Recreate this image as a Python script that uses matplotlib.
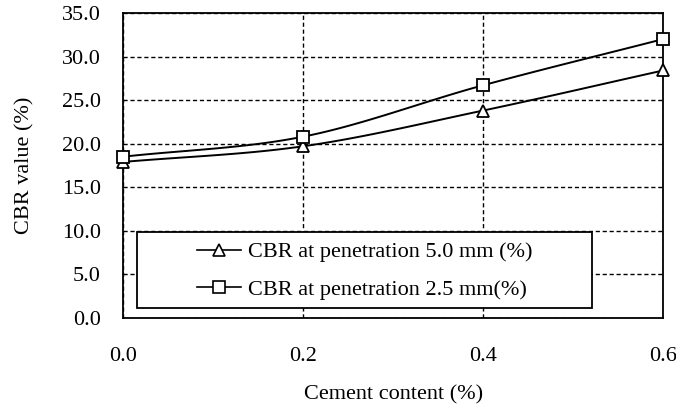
import numpy as np
import matplotlib.pyplot as plt
from matplotlib.patches import Rectangle

plt.rcParams['font.family'] = ['Liberation Serif', 'DejaVu Serif']

cement = [0.0, 0.2, 0.4, 0.6]
cbr_50 = [17.9, 19.7, 23.8, 28.4]
cbr_25 = [18.5, 20.8, 26.7, 32.0]
yticks = np.arange(0, 35.1, 5)
xticks = [0.0, 0.2, 0.4, 0.6]


def smooth(x, y, n=40):
    # Catmull-Rom curve through the points, like a spreadsheet "smoothed line"
    x = np.asarray(x, float)
    y = np.asarray(y, float)
    px = np.concatenate([[2 * x[0] - x[1]], x, [2 * x[-1] - x[-2]]])
    py = np.concatenate([[2 * y[0] - y[1]], y, [2 * y[-1] - y[-2]]])
    xs, ys = [], []
    t = np.linspace(0, 1, n)
    for i in range(1, len(px) - 2):
        for p, out in ((px, xs), (py, ys)):
            p0, p1, p2, p3 = p[i - 1], p[i], p[i + 1], p[i + 2]
            out.extend(0.5 * (2 * p1 + (-p0 + p2) * t
                              + (2 * p0 - 5 * p1 + 4 * p2 - p3) * t ** 2
                              + (-p0 + 3 * p1 - 3 * p2 + p3) * t ** 3))
    return xs, ys


fig = plt.figure(figsize=(6.76, 4.05), dpi=100)
ax = fig.add_axes([0.182, 0.215, 0.799, 0.753])

for vals, mk, ms, lab in ((cbr_50, '^', 9, 'CBR at penetration 5.0 mm (%)'),
                          (cbr_25, 's', 9, 'CBR at penetration 2.5 mm(%)')):
    sx, sy = smooth(cement, vals)
    ax.plot(sx, sy, color='black', lw=1.4, zorder=3, clip_on=False)
    ax.plot(cement, vals, ls='none', marker=mk, ms=ms, mfc='white', mec='black',
            mew=1.3, zorder=4, clip_on=False)
    ax.plot([], [], color='black', lw=1.2, marker=mk, ms=ms, mfc='white',
            mec='black', mew=1.2, label=lab)

ax.set_xlim(0, 0.6)
ax.set_ylim(0, 35)
ax.set_xticks(xticks)
ax.set_yticks(yticks)
ax.set_xticklabels([f'{v:.1f}' for v in xticks])
ax.set_yticklabels([f'{v:.1f}' for v in yticks])
ax.tick_params(length=0, labelsize=16)
ax.tick_params(axis='x', pad=21)
ax.tick_params(axis='y', pad=16)
ax.grid(True, color='black', ls=(0, (3, 2)), lw=1.0)
for s in ax.spines.values():
    s.set_linewidth(1.3)

ax.set_xlabel('Cement content (%)', fontsize=16, labelpad=14)
ax.set_ylabel('CBR value (%)', fontsize=16, labelpad=20)

# white box behind the legend entries
box = Rectangle((0.026, 0.033), 0.843, 0.25, transform=ax.transAxes,
                facecolor='white', edgecolor='black', lw=1.3, zorder=5)
ax.add_patch(box)

leg = ax.legend(loc='center', bbox_to_anchor=(0.4475, 0.154), fontsize=16,
                frameon=False, handlelength=2.0, handletextpad=0.3,
                labelspacing=0.78, borderpad=0, borderaxespad=0)
leg.set_zorder(6)

fig.savefig('out.png', dpi=100)
